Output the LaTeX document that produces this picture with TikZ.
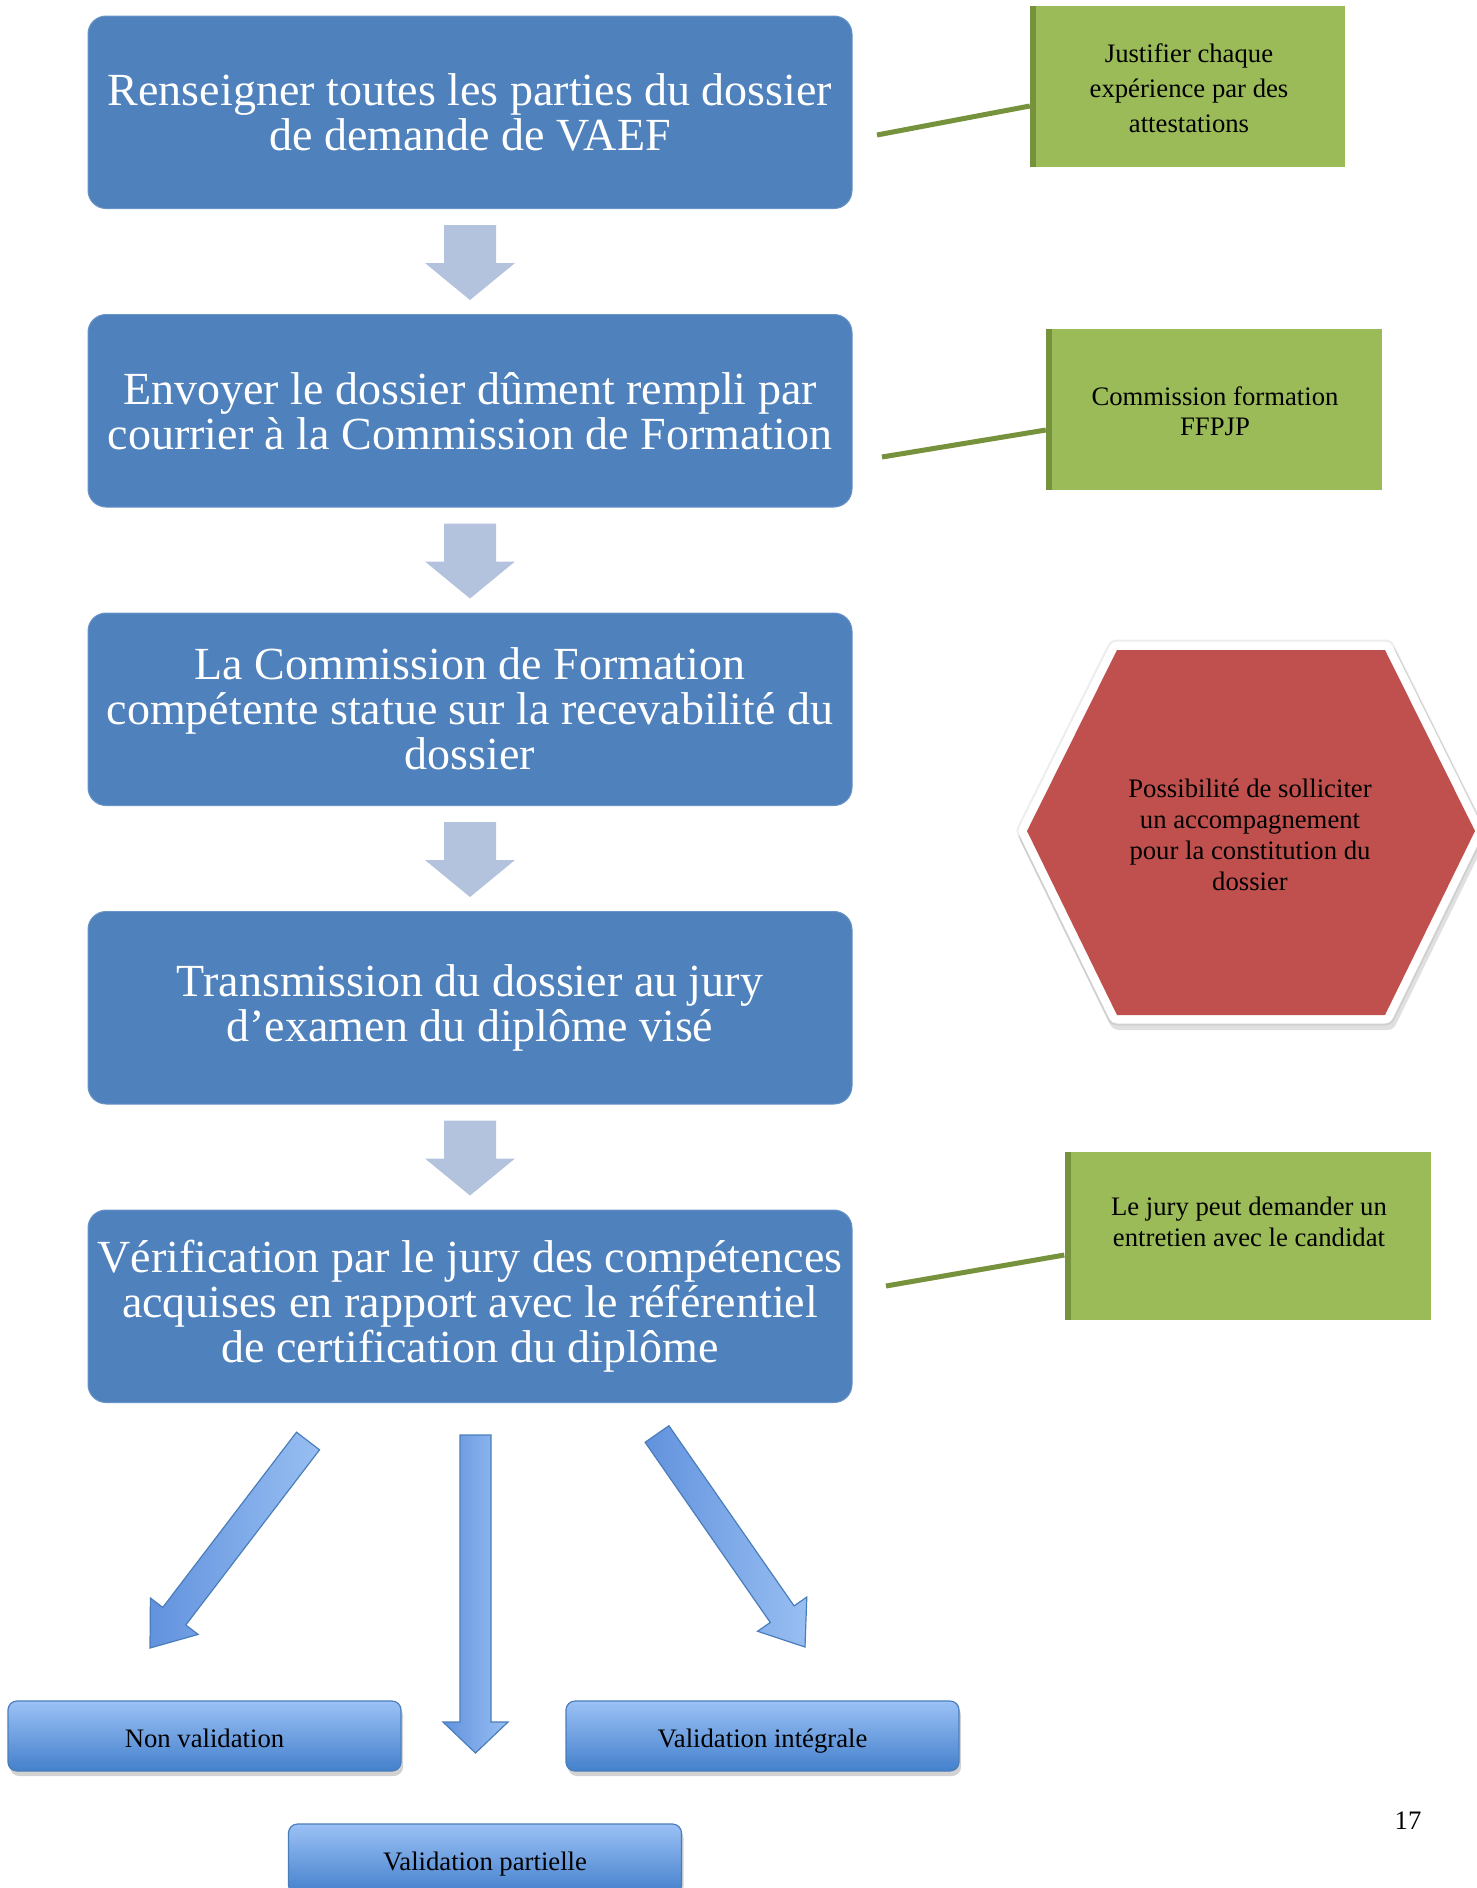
\documentclass[tikz,border=0pt]{standalone}
\usepackage{fontspec}
\setmainfont{Liberation Serif}
\usetikzlibrary{calc,shadows}
\definecolor{boxblue}{RGB}{79,129,189}
\definecolor{lightarr}{RGB}{179,195,222}
\definecolor{greenfill}{RGB}{155,187,89}
\definecolor{greendark}{RGB}{118,146,60}
\definecolor{hexred}{RGB}{192,80,77}
\definecolor{resline}{RGB}{74,126,187}
\definecolor{restop}{RGB}{155,193,245}
\definecolor{resbot}{RGB}{68,128,204}
\definecolor{arrdark}{RGB}{98,146,222}
\definecolor{arrlight}{RGB}{152,191,242}
\begin{document}
\begin{tikzpicture}[x=1pt,y=-1pt,
  stepbox/.style={rectangle, rounded corners=18pt, fill=boxblue, draw=boxblue!85!white, line width=1pt,
    minimum width=764pt, minimum height=192.5pt, text=white, align=center,
    font=\fontsize{46}{45}\selectfont, inner sep=0pt},
  notebox/.style={rectangle, fill=greenfill, inner sep=0pt, align=center,
    path picture={\fill[greendark] (path picture bounding box.north west) rectangle ([xshift=6pt]path picture bounding box.south west);}},
  notetext/.style={align=center, inner sep=0pt},
  notelink/.style={draw=greendark, line width=5pt},
  resbox/.style={rectangle, rounded corners=9pt, top color=restop, bottom color=resbot, draw=resline, line width=1.2pt,
    minimum width=393pt, minimum height=70pt, font=\fontsize{26.7}{30}\selectfont,
    text height=28pt, text depth=6pt,
    drop shadow={opacity=0.35, shadow xshift=2pt, shadow yshift=-5pt}},
  fatarrow/.style={draw=resline, line width=1.2pt, left color=arrdark, right color=arrlight},
]
\fill[white] (0,0) rectangle (1477,1888);
\useasboundingbox (0,0) rectangle (1477,1888);
\clip (0,0) rectangle (1477,1888);

% main steps
\node[stepbox] (b1) at (470,112.25) {Renseigner toutes les parties du dossier\\de demande de VAEF};
\node[stepbox] (b2) at (470,410.75) {Envoyer le dossier dûment rempli par\\courrier à la Commission de Formation};
\node[stepbox] (b3) at (470,709.25) {La Commission de Formation\\compétente statue sur la recevabilité du\\dossier};
\node[stepbox] (b4) at (470,1007.75) {Transmission du dossier au jury\\d’examen du diplôme visé};
\node[stepbox] (b5) at (470,1306.25) {Vérification par le jury des compétences\\acquises en rapport avec le référentiel\\de certification du diplôme};

% light down arrows
\foreach \i in {1,2,3,4} {
  \coordinate (a\i) at ($(b\i.south)+(0,16)$);
  \fill[lightarr] ($(a\i)+(-26,0)$) -- ($(a\i)+(-26,38)$) -- ($(a\i)+(-45,38)$) -- ($(a\i)+(0,75)$)
     -- ($(a\i)+(45,38)$) -- ($(a\i)+(26,38)$) -- ($(a\i)+(26,0)$) -- cycle;
}

% green notes
\node[notebox, minimum width=315pt, minimum height=161pt] (g1) at (1187.5,86.5) {};
\node[notetext, font=\fontsize{26.7}{35}\selectfont] (g1t) at (1189,88) {Justifier chaque\\expérience par des\\attestations};
\node[notebox, minimum width=336pt, minimum height=161pt] (g2) at (1214,409.5) {};
\node[notetext, font=\fontsize{26.7}{30}\selectfont] (g2t) at (1215,411) {Commission formation\\FFPJP};
\node[notebox, minimum width=366pt, minimum height=168pt] (g3) at (1247.5,1236) {};
\node[notetext, font=\fontsize{26.7}{31}\selectfont] (g3t) at (1249,1222) {Le jury peut demander un\\entretien avec le candidat};

\coordinate (c1) at (877,135);
\coordinate (c2) at (882,457);
\coordinate (c3) at (886,1286);
\draw[notelink] (c1) -- ($(g1.west)+(0,19.5)$);
\draw[notelink] (c2) -- ($(g2.west)+(0,20.5)$);
\draw[notelink] (c3) -- ($(g3.west)+(0,19)$);

% hexagon
\coordinate (h1) at (1117,650);
\coordinate (h2) at (1385,650);
\coordinate (h3) at (1475,831);
\coordinate (h4) at (1385,1015);
\coordinate (h5) at (1117,1015);
\coordinate (h6) at (1027,831);
\draw[black, opacity=0.07, line width=21pt, line join=round] (h1) -- (h2) -- (h3) -- (h4) -- (h5) -- (h6) -- cycle;
\draw[black, opacity=0.12, line width=20pt, line join=round] ($(h1)+(2,5)$) -- ($(h2)+(2,5)$) -- ($(h3)+(2,5)$) -- ($(h4)+(2,5)$) -- ($(h5)+(2,5)$) -- ($(h6)+(2,5)$) -- cycle;
\filldraw[fill=hexred, draw=white, line width=17pt, line join=round] (h1) -- (h2) -- (h3) -- (h4) -- (h5) -- (h6) -- cycle;
\fill[hexred] (h1) -- (h2) -- (h3) -- (h4) -- (h5) -- (h6) -- cycle;
\node[notetext, font=\fontsize{26.7}{31}\selectfont] (hext) at (1250,835) {Possibilité de solliciter\\un accompagnement\\pour la constitution du\\dossier};

% outcome boxes
\node[resbox] (nv) at (204.5,1736) {Non validation};
\node[resbox] (vi) at (762.5,1736) {Validation intégrale};
\node[resbox] (vp) at (485,1859) {Validation partielle};

% fat outcome arrows
\coordinate (T1) at (308,1441);  \coordinate (P1) at (150,1648);
\coordinate (T2) at (475.5,1435); \coordinate (P2) at (475.5,1753);
\coordinate (T3) at (657,1434);  \coordinate (P3) at (805,1647);
\coordinate (H1) at ($(P1)!40pt!(T1)$);
\coordinate (H2) at ($(P2)!31pt!(T2)$);
\coordinate (H3) at ($(P3)!40pt!(T3)$);
\draw[fatarrow, line join=miter]
  ($(T1)!14.5pt!90:(P1)$) -- ($(H1)!14.5pt!-90:(T1)$) -- ($(H1)!30pt!-90:(T1)$) -- (P1)
  -- ($(H1)!30pt!90:(T1)$) -- ($(H1)!14.5pt!90:(T1)$) -- ($(T1)!14.5pt!-90:(P1)$) -- cycle;
\draw[fatarrow, line join=miter]
  ($(T2)+(-15.5,0)$) -- ($(H2)+(-15.5,0)$) -- ($(H2)+(-32.5,0)$) -- (P2)
  -- ($(H2)+(32.5,0)$) -- ($(H2)+(15.5,0)$) -- ($(T2)+(15.5,0)$) -- cycle;
\draw[fatarrow, line join=miter]
  ($(T3)!14.5pt!90:(P3)$) -- ($(H3)!14.5pt!-90:(T3)$) -- ($(H3)!30pt!-90:(T3)$) -- (P3)
  -- ($(H3)!30pt!90:(T3)$) -- ($(H3)!14.5pt!90:(T3)$) -- ($(T3)!14.5pt!-90:(P3)$) -- cycle;

% page number
\node[notetext, font=\fontsize{26.7}{30}\selectfont] (pg) at (1408,1821) {17};
\end{tikzpicture}
\end{document}
